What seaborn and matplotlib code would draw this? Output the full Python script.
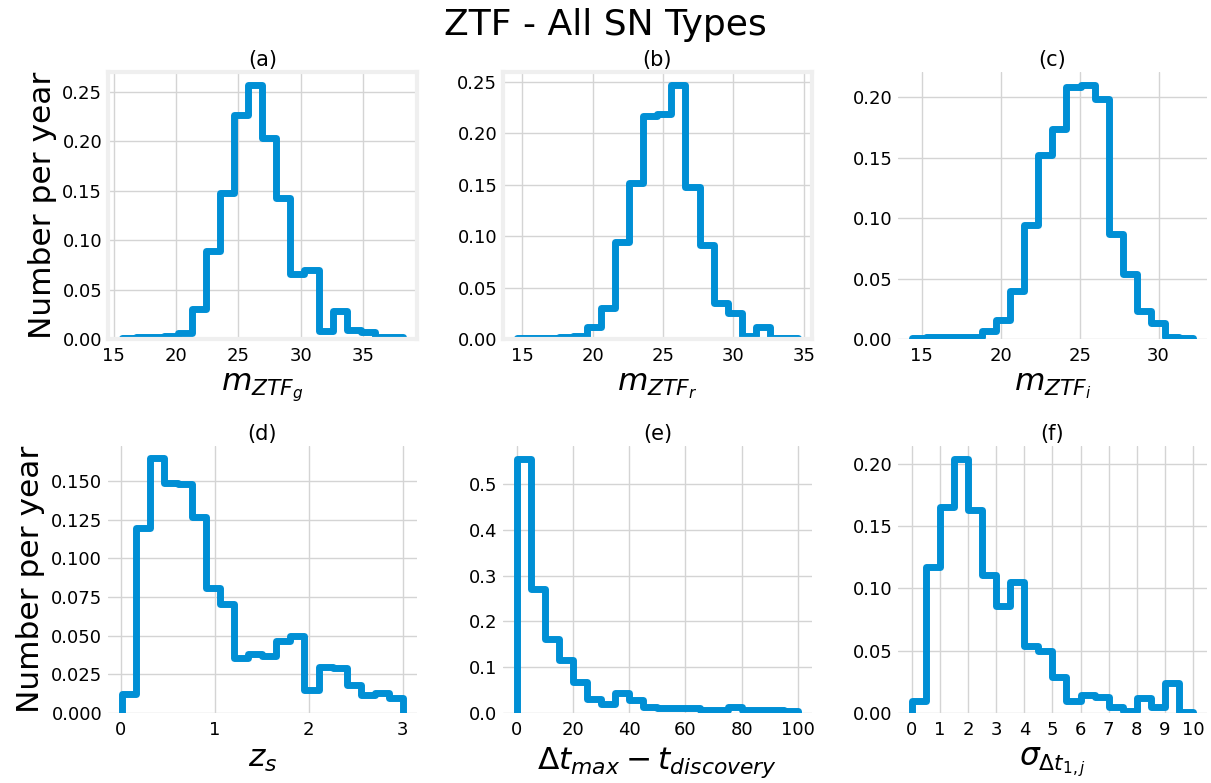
import numpy as np
import pandas as pd
import matplotlib
matplotlib.use('Agg')
import matplotlib.pyplot as plt
import seaborn as sns
from matplotlib.ticker import MultipleLocator

# ==============================================================================
# DATA: bin range + number per year in each bin (20 bins per panel)
# ==============================================================================
g_range = [15.66, 38.2]
g_heights = [0.001, 0.002, 0.002, 0.003, 0.006, 0.030, 0.089, 0.148, 0.226, 0.257,
             0.203, 0.143, 0.066, 0.070, 0.008, 0.028, 0.009, 0.007, 0.002, 0.002]

r_range = [14.62, 34.58]
r_heights = [0.001, 0.001, 0.0015, 0.002, 0.003, 0.012, 0.030, 0.094, 0.152, 0.217,
             0.219, 0.247, 0.148, 0.091, 0.035, 0.025, 0.003, 0.012, 0.0015, 0.0015]

i_range = [14.37, 32.18]
i_heights = [0.001, 0.0014, 0.0014, 0.0016, 0.002, 0.0064, 0.016, 0.040, 0.094, 0.152,
             0.174, 0.209, 0.2105, 0.199, 0.0866, 0.054, 0.023, 0.013, 0.002, 0.001]

z_range = [0.01, 3.0]
z_heights = [0.0126, 0.1197, 0.165, 0.149, 0.148, 0.127, 0.081, 0.0706, 0.0353, 0.0379,
             0.0368, 0.0465, 0.0498, 0.0147, 0.0299, 0.0288, 0.018, 0.0115, 0.013, 0.0097]

dt_range = [0, 100]
dt_heights = [0.556, 0.270, 0.1625, 0.115, 0.068, 0.031, 0.020, 0.044, 0.029, 0.013,
              0.011, 0.011, 0.011, 0.006, 0.006, 0.013, 0.007, 0.007, 0.007, 0.004]

sig_range = [0, 10]
sig_heights = [0.0094, 0.117, 0.165, 0.204, 0.1626, 0.111, 0.0856, 0.105, 0.0535, 0.050,
               0.029, 0.010, 0.0147, 0.0128, 0.0048, 0.0016, 0.0123, 0.0048, 0.0243, 0.0008]

panel_titles = ['(a)', '(b)', '(c)', '(d)', '(e)', '(f)']
x_labels = [r'$m_{ZTF_g}$', r'$m_{ZTF_r}$', r'$m_{ZTF_i}$', r'$z_s$',
            r'$\Delta t_{max} - t_{discovery}$', r'$\sigma_{\Delta t_{1,j}}$']

ranges = [g_range, r_range, i_range, z_range, dt_range, sig_range]
heights = [g_heights, r_heights, i_heights, z_heights, dt_heights, sig_heights]

# ==============================================================================
# STYLE
# ==============================================================================
sns.set_theme(style='whitegrid', rc={
    'axes.facecolor': 'white',
    'figure.facecolor': 'white',
    'grid.color': '#d4d4d4',
    'grid.linewidth': 1.0,
    'text.color': 'black',
    'axes.labelcolor': 'black',
    'xtick.color': 'black',
    'ytick.color': 'black',
    'xtick.labelsize': 13,
    'ytick.labelsize': 13,
    'xtick.major.size': 0,
    'ytick.major.size': 0,
    'xtick.major.pad': 6,
    'ytick.major.pad': 4,
})
plt.rcParams['font.family'] = ['DejaVu Sans']

fig, axes = plt.subplots(2, 3, figsize=(12.11, 7.83), dpi=100)
fig.subplots_adjust(left=0.089, right=0.9967, top=0.908, bottom=0.0894,
                    wspace=0.278, hspace=0.40)

for k, ax in enumerate(axes.flat):
    lo, hi = ranges[k]
    nb = len(heights[k])
    width = (hi - lo) / nb
    centers = lo + width * (np.arange(nb) + 0.5)
    df = pd.DataFrame({'x': centers, 'w': heights[k]})
    sns.histplot(data=df, x='x', weights='w', bins=nb, binrange=(lo, hi),
                 element='step', fill=False, color='#008fd5', linewidth=5, ax=ax)
    # close the outline down to zero at both ends (like histtype='step')
    line = ax.lines[-1]
    xs, ys = line.get_data()
    line.set_data(np.r_[xs[0], xs, xs[-1]], np.r_[0, ys, 0])
    ax.set_ylim(bottom=0)
    ax.set_title(panel_titles[k], fontsize=15, pad=4)
    ax.set_xlabel(x_labels[k], fontsize=22.5)
    ax.set_ylabel('Number per year' if k % 3 == 0 else '', fontsize=22.5)
    for s in ax.spines.values():
        if k < 2:
            s.set_visible(True)
            s.set_color('#efefef')
            s.set_linewidth(3)
        else:
            s.set_visible(False)

axes[1, 0].yaxis.set_major_locator(MultipleLocator(0.025))
axes[1, 1].xaxis.set_major_locator(MultipleLocator(20))
axes[1, 2].set_xticks(range(11))

fig.suptitle('ZTF - All SN Types', fontsize=26, y=0.99)
fig.savefig('out.png', dpi=100)
